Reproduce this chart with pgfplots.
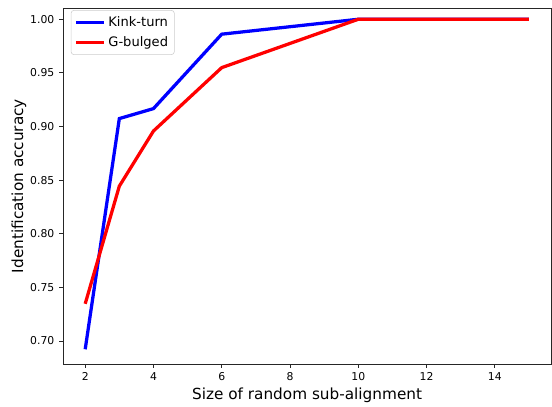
\documentclass[border=0pt]{standalone}
\usepackage{pgfplots}
\pgfplotsset{compat=1.18}
\usepackage{fontspec}
\setmainfont{DejaVu Sans}

\begin{document}
\begin{tikzpicture}
% picture frame with the reference's proportions
\useasboundingbox (-45.36pt,-30.24pt) rectangle (352pt,262.08pt);
\begin{axis}[
    at={(0pt,0pt)}, anchor=south west,
    scale only axis,
    width=351.36pt,
    height=256.32pt,
    xmin=1.35, xmax=15.65,
    ymin=0.6785, ymax=1.0105,
    xtick={2,4,6,8,10,12,14},
    ytick={0.70,0.75,0.80,0.85,0.90,0.95,1.00},
    yticklabel style={/pgf/number format/.cd, fixed, fixed zerofill, precision=2},
    /pgf/number format/assume math mode=true,
    tick align=outside,
    major tick length=2.7pt,
    xtick pos=bottom,
    ytick pos=left,
    axis line style={line width=0.62pt, black!85},
    every tick/.style={line width=0.62pt, black!85},
    tick label style={font=\fontsize{7.8}{9}\selectfont},
    label style={font=\fontsize{11}{13}\selectfont},
    xlabel={Size of random sub-alignment},
    ylabel={Identification accuracy},
    xlabel style={yshift=2pt},
    ylabel style={yshift=-4pt},
    legend style={at={(0.016,0.994)}, anchor=north west, draw=black!20,
        rounded corners=2pt, font=\fontsize{9.4}{11}\selectfont,
        inner sep=2.5pt, row sep=1.5pt},
    legend cell align=left,
    legend image code/.code={\draw[#1] (0pt,0pt) -- (20pt,0pt);},
]
\addplot[blue, line width=2.35pt] coordinates {
    (2,0.6923) (3,0.9074) (4,0.9167) (6,0.9861) (10,1.0) (15,1.0)
};
\addplot[red, line width=2.35pt] coordinates {
    (2,0.7347) (3,0.8444) (4,0.8958) (6,0.9549) (10,1.0) (15,1.0)
};
\legend{Kink-turn, G-bulged}
\end{axis}
\end{tikzpicture}
\end{document}
